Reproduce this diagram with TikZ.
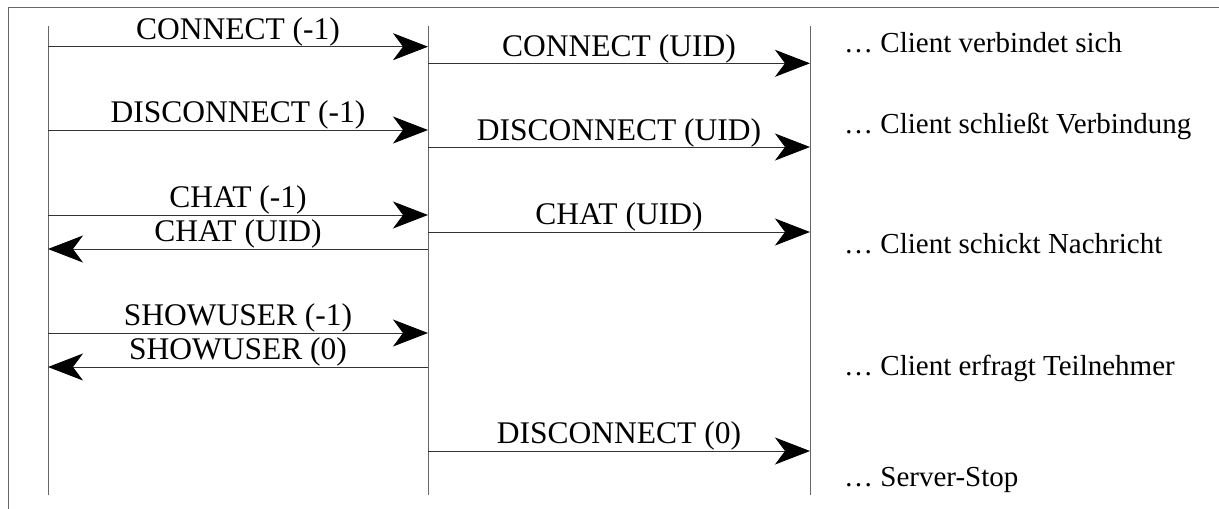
\documentclass[tikz,border=0pt]{standalone}
\usepackage{fontspec}
\setmainfont{Liberation Serif}
\usetikzlibrary{arrows.meta}
\begin{document}
\begin{tikzpicture}[x=1pt,y=-1pt,
  msg/.style={draw=black!80, line width=1pt, -{Stealth[length=35pt,width=27pt,inset=10pt,color=black]}},
  lifeline/.style={draw=black!60, line width=1pt},
  frameline/.style={draw=black!60, line width=1pt},
  lbl/.style={anchor=base, inner sep=0pt, font=\fontsize{31.5}{36}\selectfont},
  note/.style={anchor=base west, inner sep=0pt, font=\fontsize{29}{34}\selectfont}]
\useasboundingbox (0,0) rectangle (1219,509);
% frame
\coordinate (fBL) at (8,509);
\coordinate (fTL) at (8,7);
\coordinate (fTR) at (1219,7);
\draw[frameline] (fBL) -- (fTL) -- (fTR);
% lifelines
\coordinate (Ltop) at (48,26);  \coordinate (Lbot) at (48,495);
\coordinate (Stop) at (428,26); \coordinate (Sbot) at (428,495);
\coordinate (Rtop) at (810,26); \coordinate (Rbot) at (810,495);
\draw[lifeline] (Ltop) -- (Lbot);
\draw[lifeline] (Stop) -- (Sbot);
\draw[lifeline] (Rtop) -- (Rbot);
% message end points
\coordinate (c1a) at (48,46.7);  \coordinate (c1b) at (428,46.7);
\coordinate (c2a) at (428,63.3); \coordinate (c2b) at (810,63.3);
\coordinate (d1a) at (48,130);   \coordinate (d1b) at (428,130);
\coordinate (d2a) at (428,147);  \coordinate (d2b) at (810,147);
\coordinate (h1a) at (48,215);   \coordinate (h1b) at (428,215);
\coordinate (h2a) at (428,249);  \coordinate (h2b) at (48,249);
\coordinate (h3a) at (428,232);  \coordinate (h3b) at (810,232);
\coordinate (s1a) at (48,333);   \coordinate (s1b) at (428,333);
\coordinate (s2a) at (428,367);  \coordinate (s2b) at (48,367);
\coordinate (x0a) at (428,451);  \coordinate (x0b) at (810,451);
% messages
\draw[msg] (c1a) -- node[midway, lbl, yshift=7.5pt] (t1) {CONNECT (-1)} (c1b);
\draw[msg] (c2a) -- node[midway, lbl, yshift=7pt] (t2) {CONNECT (UID)} (c2b);
\draw[msg] (d1a) -- node[midway, lbl, yshift=7.5pt] (t3) {DISCONNECT (-1)} (d1b);
\draw[msg] (d2a) -- node[midway, lbl, yshift=7pt] (t4) {DISCONNECT (UID)} (d2b);
\draw[msg] (h1a) -- node[midway, lbl, yshift=7.5pt] (t5) {CHAT (-1)} (h1b);
\draw[msg] (h2a) -- node[midway, lbl, yshift=7.5pt] (t6) {CHAT (UID)} (h2b);
\draw[msg] (h3a) -- node[midway, lbl, yshift=7.5pt] (t7) {CHAT (UID)} (h3b);
\draw[msg] (s1a) -- node[midway, lbl, yshift=7.5pt] (t8) {SHOWUSER (-1)} (s1b);
\draw[msg] (s2a) -- node[midway, lbl, yshift=7.5pt] (t9) {SHOWUSER (0)} (s2b);
\draw[msg] (x0a) -- node[midway, lbl, yshift=7.5pt] (t10) {DISCONNECT (0)} (x0b);
% notes
\node[note] (n1) at (844,52)  {… Client verbindet sich};
\node[note] (n2) at (844,133) {… Client schließt Verbindung};
\node[note] (n3) at (844,253) {… Client schickt Nachricht};
\node[note] (n4) at (844,375) {… Client erfragt Teilnehmer};
\node[note] (n5) at (844,486) {… Server-Stop};
\end{tikzpicture}
\end{document}
